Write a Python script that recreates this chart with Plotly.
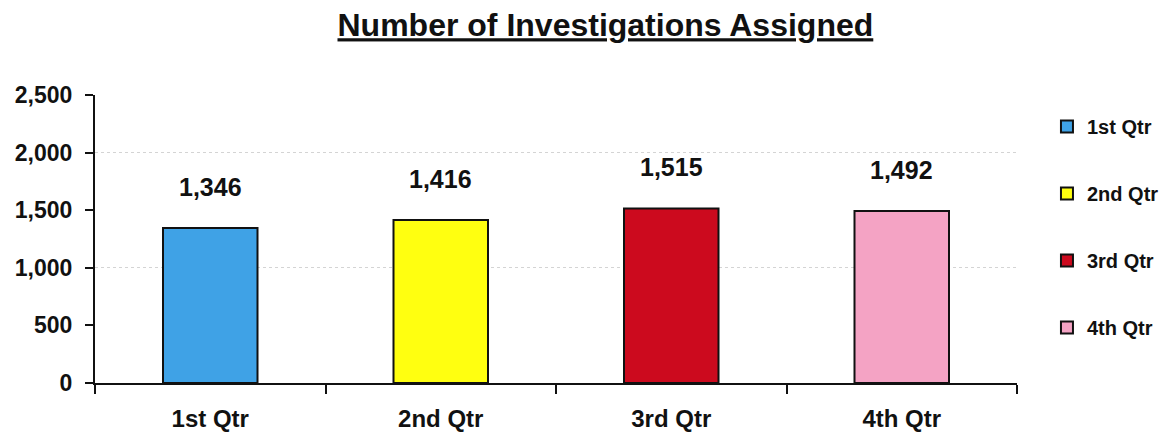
import plotly.graph_objects as go

categories = ["1st Qtr", "2nd Qtr", "3rd Qtr", "4th Qtr"]
values = [1346, 1416, 1515, 1492]
colors = ["#3FA2E6", "#FFFF10", "#CC0A1E", "#F4A3C4"]
y_ticks = [0, 500, 1000, 1500, 2000, 2500]
y_tick_labels = ["0", "500", "1,000", "1,500", "2,000", "2,500"]
grid_vals = [1000, 2000]

fig = go.Figure()
# invisible helper trace to activate dotted gridlines on the overlay axis
fig.add_trace(go.Scatter(x=[categories[0]], y=[0], yaxis="y2", mode="markers",
                         marker=dict(opacity=0), showlegend=False, hoverinfo="skip"))
for c, v, col in zip(categories, values, colors):
    fig.add_trace(go.Bar(
        x=[c], y=[v], name=f"<b>{c}</b>", width=0.41,
        marker=dict(color=col, line=dict(color="#111111", width=2)),
        legendgroup=c,
    ))
    fig.add_annotation(x=c, y=v, text=f"<b>{v:,}</b>", showarrow=False,
                       yshift=41, font=dict(size=25, color="#111111", family="Arial"))

fig.update_layout(
    width=1160, height=426,
    paper_bgcolor="white", plot_bgcolor="white",
    barmode="overlay",
    margin=dict(l=87, r=151, t=87, b=51, autoexpand=False),
    font=dict(family="Arial", color="#111111"),
    title=dict(text="<b><u>Number of Investigations Assigned</u></b>",
               xref="container", x=0.515, xanchor="center",
               y=0.96, yanchor="middle",
               font=dict(size=32, family="Arial", color="#111111")),
    legend=dict(x=1.0325, xanchor="left", y=0.958, yanchor="top",
                font=dict(size=20, family="Arial", color="#111111"),
                tracegroupgap=38, itemwidth=30, bgcolor="rgba(0,0,0,0)"),
    xaxis=dict(type="category", categoryorder="array", categoryarray=categories,
               showline=True, linecolor="#111111", linewidth=2,
               ticks="outside", tickson="boundaries", ticklen=9, tickwidth=2,
               tickcolor="#111111", ticklabelstandoff=13, automargin=False,
               tickfont=dict(size=24, family="Arial", color="#111111"),
               tickprefix="<b>", ticksuffix="</b>", showgrid=False),
    yaxis=dict(range=[0, 2500], tickvals=y_ticks,
               ticktext=[f"<b>{t}</b>" for t in y_tick_labels],
               showline=True, linecolor="#111111", linewidth=2,
               ticks="outside", ticklen=8, tickwidth=2, tickcolor="#111111",
               ticklabelstandoff=8, automargin=False,
               tickfont=dict(size=23, family="Arial", color="#111111"),
               showgrid=False, zeroline=False),
    yaxis2=dict(range=[0, 2500], overlaying="y", side="left", tickvals=grid_vals,
                showticklabels=False, showgrid=True, gridcolor="#d4d4d4",
                griddash="dot", gridwidth=1, ticks="", zeroline=False,
                automargin=False),
)

fig.write_html("out.html")
